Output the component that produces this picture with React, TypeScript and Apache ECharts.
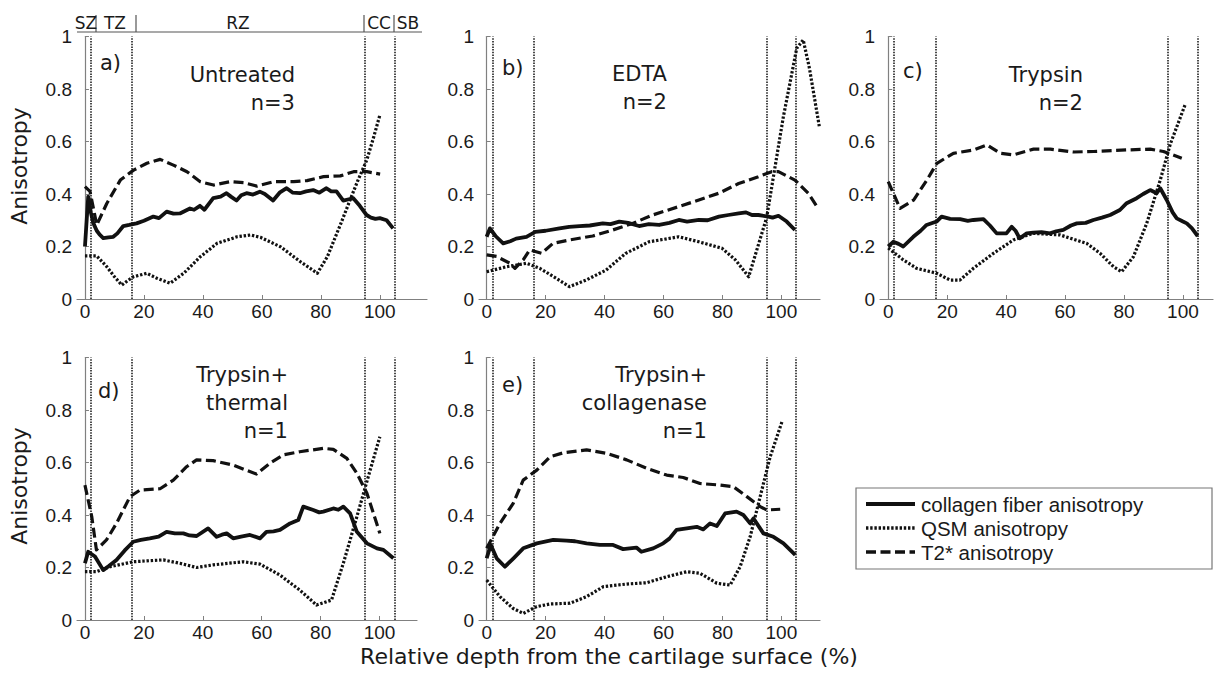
import React, { useEffect, useRef } from "react";
import * as echarts from "echarts";

// ---------- data ----------
const zoneLines = [2, 16, 95, 105];
const xTickValues = [0, 20, 40, 60, 80, 100];
const zoneNames = ["SZ", "TZ", "RZ", "CC", "SB"];
const seriesNames = ["collagen fiber anisotropy", "QSM anisotropy", "T2* anisotropy"];
const axisTitleY = "Anisotropy";
const axisTitleX = "Relative depth from the cartilage surface (%)";

const untreatedCollagen = [[0,0.2],[1.1,0.39],[2.0,0.33],[2.8,0.29],[4,0.26],[5,0.245],[6.2,0.232],[8,0.235],[9.6,0.237],[11,0.25],[13,0.278],[15,0.282],[17.5,0.288],[20,0.298],[23.2,0.314],[25.1,0.308],[27.7,0.333],[30,0.325],[32.2,0.326],[35.6,0.345],[37,0.34],[39,0.355],[40.5,0.34],[43.5,0.384],[46,0.39],[48,0.403],[49.5,0.39],[51.4,0.375],[53,0.395],[54.8,0.403],[57,0.398],[59.3,0.409],[61,0.4],[63.8,0.375],[66,0.405],[68.4,0.422],[70.5,0.405],[72.9,0.403],[75,0.41],[77.4,0.415],[79.5,0.405],[81.9,0.422],[83.5,0.41],[85.3,0.41],[87.6,0.375],[89.5,0.38],[91,0.384],[93.2,0.355],[95.5,0.32],[97,0.31],[98.5,0.305],[100,0.308],[102.3,0.3],[104.5,0.269]];
const untreatedQSM = [[0,0.164],[4,0.164],[7.4,0.123],[10,0.085],[12.5,0.053],[14.5,0.07],[16.5,0.085],[21,0.098],[24.4,0.079],[28.9,0.06],[33.5,0.098],[39.1,0.161],[44.8,0.212],[51.6,0.237],[56.1,0.244],[59.5,0.235],[66.3,0.199],[73.1,0.142],[78.8,0.098],[82.2,0.161],[86.8,0.288],[89.9,0.377],[92.5,0.45],[95.6,0.53],[98,0.62],[100,0.7]];
const untreatedT2 = [[0,0.428],[1.7,0.41],[4,0.282],[7.4,0.364],[12,0.453],[16.5,0.491],[21,0.517],[25.5,0.532],[30,0.51],[34.6,0.485],[39.1,0.447],[43.6,0.434],[49.3,0.447],[53.8,0.443],[58.3,0.43],[64,0.447],[70.8,0.447],[75.3,0.451],[80.9,0.466],[86.6,0.469],[91.1,0.485],[95.6,0.485],[100.1,0.476]];

const edtaCollagen = [[0,0.237],[1.1,0.269],[3,0.24],[5.6,0.212],[8,0.22],[10,0.23],[13.5,0.237],[16.5,0.256],[20,0.26],[24.7,0.269],[28,0.275],[31.5,0.278],[35,0.28],[39.4,0.288],[42,0.285],[45,0.295],[48,0.29],[51.7,0.278],[55,0.285],[58.5,0.282],[62,0.29],[65.2,0.301],[68,0.295],[72,0.301],[75,0.3],[78.8,0.314],[82,0.32],[85.5,0.326],[88,0.33],[90,0.32],[92.2,0.32],[95.6,0.314],[97,0.31],[99,0.317],[101.8,0.295],[104.6,0.263]];
const edtaQSM = [[0,0.104],[6.8,0.123],[13.5,0.136],[18,0.117],[23.6,0.079],[28.1,0.047],[33.7,0.072],[40.5,0.11],[47.2,0.174],[55.1,0.218],[65.2,0.237],[72,0.218],[79.9,0.193],[84.4,0.149],[88.9,0.085],[95,0.31],[100.6,0.69],[105.2,0.955],[107.4,0.987],[109.5,0.88],[112.9,0.655]];
const edtaT2 = [[0,0.168],[3.4,0.162],[7.9,0.136],[9.6,0.117],[12.4,0.149],[14.6,0.187],[18.6,0.174],[22.5,0.212],[28.1,0.225],[36,0.24],[42.8,0.263],[49.5,0.288],[56.3,0.32],[65.2,0.352],[72,0.377],[78.8,0.403],[85.5,0.44],[92.2,0.466],[96.7,0.485],[99,0.485],[104.6,0.453],[109.1,0.403],[112.5,0.345]];

const trypsinCollagen = [[0,0.2],[1.7,0.218],[3.5,0.21],[5.1,0.2],[8.5,0.237],[11,0.26],[13,0.282],[16.4,0.295],[18.1,0.314],[21,0.305],[24.4,0.304],[27,0.298],[28.9,0.301],[32.3,0.304],[34.5,0.28],[36.8,0.25],[40.1,0.25],[41.9,0.275],[43.2,0.26],[44.6,0.231],[47,0.25],[49.2,0.253],[52,0.255],[54.9,0.25],[57,0.258],[59.4,0.263],[62,0.28],[64,0.288],[67,0.29],[69.6,0.301],[72.5,0.31],[75.3,0.32],[78.6,0.339],[80.9,0.365],[84.3,0.384],[86.5,0.4],[88.9,0.415],[91.1,0.403],[92.3,0.422],[94.5,0.377],[96.5,0.33],[97.9,0.307],[100,0.295],[101.3,0.288],[103,0.27],[105,0.24]];
const trypsinQSM = [[0,0.194],[5.1,0.149],[9.6,0.117],[16.4,0.098],[21,0.072],[24.3,0.072],[28.9,0.117],[35.7,0.174],[42.5,0.225],[49.2,0.25],[58.3,0.244],[67.3,0.212],[71.9,0.174],[76.4,0.123],[79.2,0.104],[83.2,0.161],[87.7,0.288],[92.3,0.453],[95.7,0.59],[100.7,0.739]];
const trypsinT2 = [[0,0.447],[4,0.345],[8.6,0.377],[13.1,0.453],[16.5,0.517],[22.1,0.555],[29,0.568],[33.5,0.587],[38,0.555],[42.5,0.549],[49.3,0.571],[55,0.571],[62.9,0.56],[69.7,0.562],[81,0.568],[88.9,0.571],[93.4,0.562],[99.6,0.536]];

const thermalCollagen = [[0,0.216],[1.1,0.26],[3.4,0.242],[6.2,0.19],[8,0.205],[10.7,0.229],[13.5,0.265],[16.4,0.298],[19,0.305],[22,0.311],[25,0.318],[27.7,0.336],[30.5,0.33],[33.4,0.33],[35.5,0.322],[37.9,0.32],[41.8,0.349],[44.7,0.317],[46.5,0.325],[48.1,0.33],[50.3,0.311],[53,0.318],[56,0.324],[59.4,0.311],[61.6,0.336],[64,0.338],[66.2,0.343],[69.6,0.368],[72.4,0.381],[74.1,0.432],[77.5,0.419],[79.5,0.41],[80.9,0.413],[84.3,0.425],[86,0.42],[87.7,0.432],[90,0.406],[92.3,0.336],[95.7,0.292],[99.1,0.273],[101.3,0.267],[104.7,0.235]];
const thermalQSM = [[0,0.184],[3.9,0.184],[8.5,0.203],[16.4,0.222],[26.6,0.229],[32.2,0.216],[37.9,0.2],[43.5,0.21],[53.7,0.222],[59.4,0.213],[66.2,0.171],[72.9,0.114],[78.6,0.057],[83.7,0.076],[87.7,0.216],[92.3,0.394],[96.8,0.571],[100.1,0.698]];
const thermalT2 = [[0,0.514],[2.3,0.394],[3.9,0.267],[7.3,0.305],[10.7,0.368],[15.3,0.47],[18.7,0.495],[25.5,0.5],[30,0.533],[34.5,0.584],[37.9,0.61],[43.5,0.607],[50.3,0.59],[58.2,0.556],[62.8,0.597],[67.3,0.629],[72.9,0.641],[80.9,0.654],[84.3,0.65],[88.9,0.616],[92.3,0.559],[95.7,0.483],[100.1,0.33]];

const collagenaseCollagen = [[0,0.235],[1.4,0.286],[3.4,0.235],[6.2,0.203],[9.1,0.235],[12.4,0.273],[17,0.292],[22.6,0.305],[27.1,0.302],[30,0.3],[33.9,0.292],[38.4,0.286],[42.9,0.286],[46.3,0.27],[50.8,0.276],[52.5,0.26],[56.5,0.273],[59.9,0.292],[62,0.31],[64.4,0.343],[67.9,0.349],[71.3,0.355],[73.5,0.345],[75.8,0.368],[78.1,0.358],[80.9,0.406],[84.8,0.413],[87.1,0.4],[89.4,0.368],[90.5,0.387],[93.9,0.33],[97.3,0.317],[100.7,0.292],[104.7,0.248]];
const collagenaseQSM = [[0,0.152],[4.5,0.089],[9,0.044],[12.4,0.025],[17,0.051],[21.5,0.061],[28.3,0.064],[33.9,0.089],[39.6,0.127],[47.5,0.137],[54.3,0.142],[61.1,0.165],[67.9,0.184],[72.4,0.178],[78.1,0.14],[82.6,0.133],[86,0.203],[89.4,0.317],[92.8,0.47],[96.2,0.622],[100.2,0.755]];
const collagenaseT2 = [[0,0.273],[4.5,0.368],[9,0.444],[12.4,0.533],[17,0.571],[21.5,0.622],[26,0.637],[33.9,0.648],[40.7,0.635],[47.5,0.61],[54.3,0.578],[61.1,0.552],[66.7,0.543],[72.4,0.52],[79.2,0.514],[83.7,0.508],[88.3,0.47],[92.8,0.432],[95,0.419],[99.6,0.422]];

const panelLetters = ["a)", "b)", "c)", "d)", "e)"];
const panelTitles = [["Untreated", "n=3"], ["EDTA", "n=2"], ["Trypsin", "n=2"], ["Trypsin+", "thermal", "n=1"], ["Trypsin+", "collagenase", "n=1"]];
const panelSeries = [
  [untreatedCollagen, untreatedQSM, untreatedT2],
  [edtaCollagen, edtaQSM, edtaT2],
  [trypsinCollagen, trypsinQSM, trypsinT2],
  [thermalCollagen, thermalQSM, thermalT2],
  [collagenaseCollagen, collagenaseQSM, collagenaseT2],
];

// ---------- layout ----------
const layout = [
  { left: 77, top: 36.5, width: 350, height: 262.5, xMin: -2.7, xMax: 116, letter: [100, 63], title: [295, 75] },
  { left: 479, top: 36.5, width: 341, height: 262.5, xMin: -2.6, xMax: 113.1, letter: [502, 68], title: [667, 74] },
  { left: 880, top: 36.5, width: 333, height: 262.5, xMin: -2.8, xMax: 110.2, letter: [903, 71], title: [1083, 75] },
  { left: 77, top: 357.5, width: 340, height: 262.5, xMin: -2.7, xMax: 112.7, letter: [98, 391], title: [288, 375] },
  { left: 479, top: 357.5, width: 341, height: 262.5, xMin: -2.6, xMax: 113.1, letter: [502, 385], title: [707, 375] },
];

const INK = "#111";
const lineStyles = [
  { width: 3.8, type: "solid" },
  { width: 3.2, type: [2.4, 1.8] },
  { width: 3.2, type: [10, 4.5] },
];
const numFont = "Liberation Sans, Arial, sans-serif";
const txtFont = "DejaVu Sans, Verdana, sans-serif";

export default function App() {
  const ref = useRef<HTMLDivElement>(null);
  useEffect(() => {
    if (!ref.current) return;
    const chart = echarts.init(ref.current, undefined, { renderer: "svg" });

    const grids = layout.map((l) => ({ left: l.left, top: l.top, width: l.width, height: l.height, containLabel: false }));
    const xAxes = layout.map((l, i) => ({
      type: "value", gridIndex: i, min: l.xMin, max: l.xMax,
      axisLine: { show: true, lineStyle: { color: "#808080", width: 1.2 } },
      axisTick: { show: true, inside: true, length: 4, customValues: xTickValues, lineStyle: { color: "#808080" } },
      axisLabel: { customValues: xTickValues, color: "#1a1a1a", fontFamily: numFont, fontSize: 19, margin: 3 },
      splitLine: { show: false },
    }));
    const yAxes = layout.map((l, i) => ({
      type: "value", gridIndex: i, min: 0, max: 1, interval: 0.2,
      axisLine: { show: true, lineStyle: { color: "#808080", width: 1.2 } },
      axisTick: { show: true, inside: true, length: 4, lineStyle: { color: "#808080" } },
      axisLabel: { color: "#1a1a1a", fontFamily: numFont, fontSize: 19, margin: 5 },
      splitLine: { show: false },
    }));

    const series: any[] = [];
    panelSeries.forEach((trio, i) => {
      [2, 1, 0].forEach((k) => {
        series.push({
          type: "line", name: seriesNames[k], xAxisIndex: i, yAxisIndex: i,
          data: trio[k], symbol: "none", showSymbol: false, smooth: false,
          lineStyle: { color: INK, width: lineStyles[k].width, type: lineStyles[k].type, cap: "butt", join: "round" },
          z: 3 + (2 - k),
          silent: true,
          markLine: k === 2 ? {
            silent: true, symbol: ["none", "none"], label: { show: false },
            lineStyle: { color: "#111", width: 1.5, type: [1.5, 1.2] },
            data: zoneLines.map((v) => ({ xAxis: v })),
          } : undefined,
        });
      });
    });

    const graphic: any[] = [];
    layout.forEach((l, i) => {
      graphic.push({ type: "text", x: l.letter[0], y: l.letter[1], style: { text: panelLetters[i], font: `21px ${txtFont}`, fill: "#1a1a1a", textAlign: "left", textVerticalAlign: "middle" } });
      panelTitles[i].forEach((t, j) => {
        graphic.push({ type: "text", x: l.title[0], y: l.title[1] + j * 28, style: { text: t, font: `21px ${txtFont}`, fill: "#1a1a1a", textAlign: "right", textVerticalAlign: "middle" } });
      });
    });
    // y-axis titles
    [166, 486].forEach((cy) => {
      graphic.push({ type: "text", x: 19, y: cy, rotation: Math.PI / 2, style: { text: axisTitleY, font: `22px ${txtFont}`, fill: "#1a1a1a", textAlign: "center", textVerticalAlign: "middle" } });
    });
    graphic.push({ type: "text", x: 609, y: 656, style: { text: axisTitleX, font: `22px ${txtFont}`, fill: "#1a1a1a", textAlign: "center", textVerticalAlign: "middle" } });

    // zone header over panel a
    graphic.push({ type: "line", shape: { x1: 77, y1: 32, x2: 422, y2: 32 }, style: { stroke: "#555", lineWidth: 1.2 } });
    [96, 136, 364, 394].forEach((x) => {
      graphic.push({ type: "line", shape: { x1: x, y1: 15, x2: x, y2: 32 }, style: { stroke: "#555", lineWidth: 1.2 } });
    });
    const zoneCenters = [86, 115, 238, 379, 408];
    zoneNames.forEach((z, i) => {
      graphic.push({ type: "text", x: zoneCenters[i], y: 23, style: { text: z, font: `17px ${txtFont}`, fill: "#1a1a1a", textAlign: "center", textVerticalAlign: "middle" } });
    });

    // legend
    graphic.push({ type: "rect", shape: { x: 856, y: 488, width: 356, height: 81 }, style: { fill: "#fff", stroke: "#777", lineWidth: 1.2 } });
    seriesNames.forEach((n, k) => {
      const y = 504 + k * 24;
      graphic.push({ type: "line", shape: { x1: 866, y1: y, x2: 915, y2: y }, style: { stroke: INK, lineWidth: lineStyles[k].width + 0.4, lineDash: k === 0 ? null : (lineStyles[k].type as number[]) } });
      graphic.push({ type: "text", x: 921, y, style: { text: n, font: `20.5px ${numFont}`, fill: "#1a1a1a", textAlign: "left", textVerticalAlign: "middle" } });
    });

    chart.setOption({
      animation: false,
      backgroundColor: "#fff",
      grid: grids,
      xAxis: xAxes,
      yAxis: yAxes,
      series,
      graphic,
    });
    return () => chart.dispose();
  }, []);
  return <div ref={ref} style={{ position: "absolute", left: 0, top: 0, width: 1215, height: 674 }} />;
}
